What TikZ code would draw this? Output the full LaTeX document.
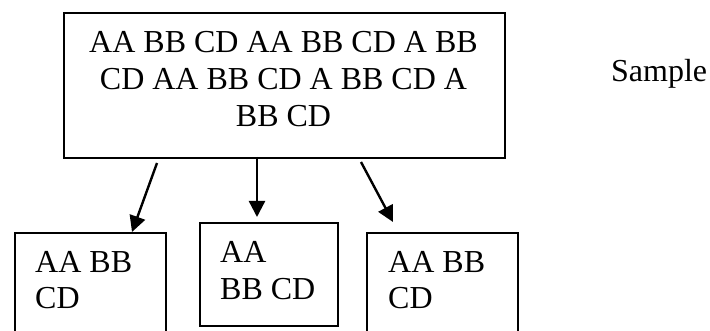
\documentclass[tikz,border=0pt]{standalone}
\usepackage{fontspec}
\setmainfont{Liberation Serif}
\usetikzlibrary{arrows.meta}
\begin{document}
\begin{tikzpicture}[x=1pt,y=-1pt,
  box/.style={draw,line width=2.2pt,inner sep=0pt,anchor=north west},
  txt/.style={inner sep=0pt,font=\fontsize{32}{37}\selectfont},
  txtb/.style={inner sep=0pt,font=\fontsize{32}{36}\selectfont},
  arr/.style={line width=2.4pt,-{Triangle[length=16pt,width=16pt]}}]
\useasboundingbox (0,0) rectangle (710,331);
\clip (0,0) rectangle (710,331);
% boxes
\node[box,minimum width=441pt,minimum height=145pt] (top) at (63,12) {};
\node[box,minimum width=151pt,minimum height=130pt] (left) at (14,232) {};
\node[box,minimum width=138pt,minimum height=103pt] (mid) at (199,222) {};
\node[box,minimum width=151pt,minimum height=130pt] (right) at (366,232) {};
% texts
\node[txt,align=center,anchor=north] (toptext) at (283.5,31.5)
  {AA BB CD AA BB CD A BB\\CD AA BB CD A BB CD A\\BB CD};
\node[txtb,align=left,anchor=north west] (lefttext) at (35,251.5) {AA BB\\CD};
\node[txt,align=left,anchor=north west] (midtext) at (220,240.8) {AA\\BB CD};
\node[txtb,align=left,anchor=north west] (righttext) at (388,251.5) {AA BB\\CD};
\node[txt,anchor=base west] (sample) at (611,82) {Sample};
% connectors
\coordinate (s1) at (157,163);
\coordinate (e1) at (132,232);
\coordinate (s2) at (257,157);
\coordinate (e2) at (257,217);
\coordinate (s3) at (361,162);
\coordinate (e3) at (393,222);
\draw[arr] (s1) -- (e1);
\draw[arr] (s2) -- (e2);
\draw[arr] (s3) -- (e3);
\end{tikzpicture}
\end{document}
